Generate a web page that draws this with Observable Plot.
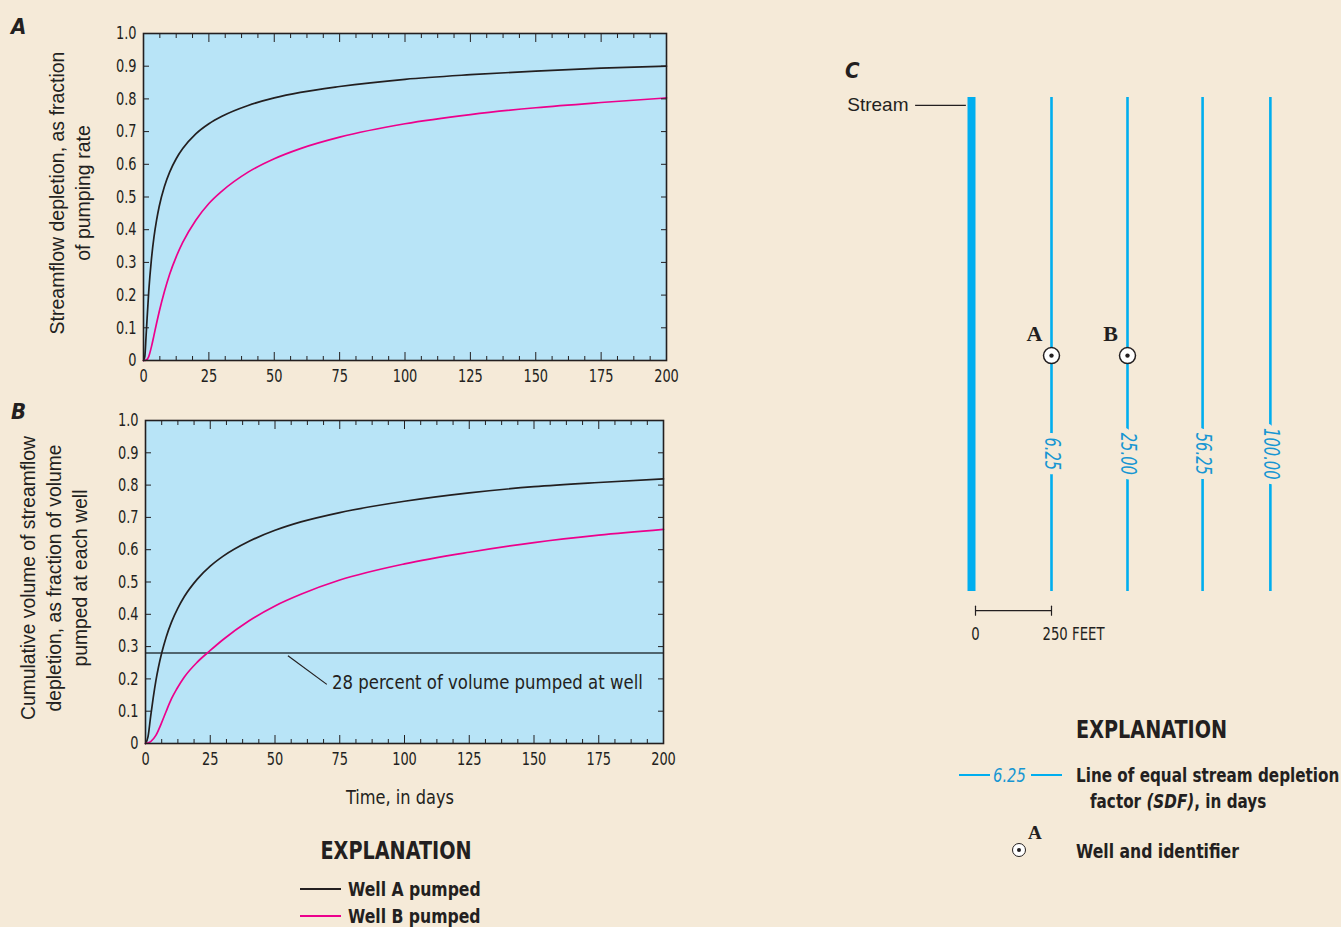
<!DOCTYPE html>
<html><head><meta charset="utf-8">
<script src="https://cdn.jsdelivr.net/npm/d3@7"></script>
<script src="https://cdn.jsdelivr.net/npm/@observablehq/plot@0.6"></script>
<style>
html,body{margin:0;padding:0;background:#F5EAD8;}
#root{position:relative;width:1341px;height:927px;background:#F5EAD8;overflow:hidden;color:#231f20;}
.abs{position:absolute;white-space:nowrap;line-height:1;}
.cond{font-family:"Liberation Sans Narrow","DejaVu Sans Condensed",sans-serif;}
.panel{position:absolute;}
.ylab{position:absolute;transform:translate(-50%,-50%) rotate(-90deg);font-family:"Liberation Sans",Arial,sans-serif;line-height:26px;text-align:center;white-space:nowrap;}
.letter{font-family:"Liberation Sans Narrow","DejaVu Sans Condensed",sans-serif;font-weight:bold;font-style:italic;font-size:22px;}
.bold{font-weight:bold;}
</style></head>
<body><div id="root"></div>
<script>
// ---------- data ----------
// Panel A: streamflow depletion as fraction of pumping rate
const aWellA_t = [0, 0.5, 1, 2, 3, 4, 5, 6, 8, 10, 12.5, 15, 20, 25, 30, 40, 50, 60, 75, 100, 125, 150, 175, 200];
const aWellA_v = [0, 0.012, 0.077, 0.211, 0.307, 0.377, 0.429, 0.471, 0.532, 0.576, 0.617, 0.648, 0.693, 0.724, 0.747, 0.780, 0.803, 0.820, 0.838, 0.860, 0.874, 0.885, 0.894, 0.900];
const aWellB_t = [0, 1, 2, 3, 4, 5, 6, 8, 10, 12.5, 15, 20, 25, 30, 40, 50, 60, 75, 100, 125, 150, 175, 200];
const aWellB_v = [0, 0.001, 0.012, 0.041, 0.077, 0.114, 0.149, 0.211, 0.264, 0.317, 0.361, 0.429, 0.480, 0.518, 0.576, 0.617, 0.648, 0.683, 0.724, 0.752, 0.773, 0.789, 0.803];
// Panel B: cumulative volume of streamflow depletion
const bWellA_t = [0, 1, 2, 3, 4, 5, 6.25, 8, 10, 12.5, 15, 20, 25, 30, 40, 50, 60, 75, 100, 125, 150, 175, 200];
const bWellA_v = [0, 0.022, 0.085, 0.143, 0.194, 0.236, 0.280, 0.330, 0.375, 0.419, 0.455, 0.509, 0.549, 0.580, 0.626, 0.660, 0.686, 0.715, 0.750, 0.776, 0.795, 0.808, 0.819];
const bWellB_t = [0, 2, 4, 6, 8, 10, 12, 15, 20, 25, 30, 40, 50, 60, 75, 100, 125, 150, 175, 200];
const bWellB_v = [0, 0.006, 0.025, 0.060, 0.100, 0.138, 0.168, 0.206, 0.252, 0.288, 0.322, 0.380, 0.426, 0.462, 0.506, 0.556, 0.592, 0.622, 0.645, 0.663];
const thresholdValue = [0.28];
const thresholdNote = ["28 percent of volume pumped at well"];
const leaderFrom = [55, 0.272], leaderTo = [70, 0.183], noteAt = [72, 0.189];
// ticks
const xMajor = [0, 25, 50, 75, 100, 125, 150, 175, 200];
const xMinor = d3.range(0, 200.01, 6.25).filter(d => d % 25 !== 0);
const yTicks = [0, 0.1, 0.2, 0.3, 0.4, 0.5, 0.6, 0.7, 0.8, 0.9, 1.0];
// Panel C: map of stream, SDF lines and wells (distances in feet from stream bank)
const sdfLabels = ["6.25", "25.00", "56.25", "100.00"];
const sdfFeet = [250, 500, 747, 970];
const lineAlongTop = 0, lineAlongBottom = 1625, labelAlong = 1172;
const wellNames = ["A", "B"];
const wellFeet = [250, 500];
const wellAlong = 849;
const scaleBarFeet = [0, 250];
const scaleBarZero = ["0"], scaleBarEnd = ["250 FEET"];
const scaleBarAlong = 1688, scaleTextAlong = 1766;
const streamLabelAlong = 26;

// ---------- helpers ----------
const INK = "#231f20", PINK = "#EC008C", FILL = "#B8E4F7", BLUE = "#00AEEF", LBLUE = "#1796D2", BG = "#F5EAD8";
const COND = '"Liberation Sans Narrow","DejaVu Sans Condensed",sans-serif';
const zipTV = (t, v) => t.map((d, i) => ({t: d, v: v[i]}));
const fmtY = d => d === 0 ? "0" : d.toFixed(1);

// horizontally compress text glyphs (condensed look) without moving anchors
function squeeze(svg, pred, k) {
  const isNum = s => s != null && /^\s*-?[\d.]+(e-?\d+)?\s*$/.test(s);
  svg.querySelectorAll("text").forEach(el => {
    if (!pred(el)) return;
    const t = el.getAttribute("transform") || "";
    const xs = el.getAttribute("x"), ys = el.getAttribute("y");
    let x = 0, y = 0;
    if (isNum(xs)) { x = +xs; el.removeAttribute("x"); }
    if (isNum(ys)) { y = +ys; el.removeAttribute("y"); }
    el.setAttribute("transform", `${t} translate(${x},${y}) scale(${k},1)`);
  });
}
const inAxis = el => { const g = el.closest("g[aria-label]"); return g && /axis tick label/.test(g.getAttribute("aria-label")); };
const textIs = list => el => list.includes(el.textContent);

function axes() {
  return [
    Plot.axisX(xMajor, {anchor: "bottom", tickSize: -8, tickPadding: 17, label: null, fontSize: 18, tickFormat: d => String(d)}),
    Plot.axisX(xMinor, {anchor: "bottom", tickSize: -4, label: null, tickFormat: () => ""}),
    Plot.axisX(xMajor, {anchor: "top", tickSize: -8, label: null, tickFormat: () => ""}),
    Plot.axisX(xMinor, {anchor: "top", tickSize: -4, label: null, tickFormat: () => ""}),
    Plot.axisY(yTicks, {anchor: "left", tickSize: -6, tickPadding: 13, label: null, fontSize: 18, tickFormat: fmtY}),
    Plot.axisY(yTicks, {anchor: "right", tickSize: -6, label: null, tickFormat: () => ""})
  ];
}

function panel({top, mt, mb, ml, mr, h, wellA, wellB, extra = []}) {
  const svg = Plot.plot({
    width: 700, height: h,
    marginTop: mt, marginBottom: mb, marginLeft: ml, marginRight: mr,
    x: {domain: [0, 200]}, y: {domain: [0, 1]},
    style: {background: "transparent", fontFamily: COND, fontSize: "18px", color: INK, overflow: "visible"},
    marks: [
      Plot.frame({fill: FILL}),
      ...extra,
      Plot.line(wellA, {x: "t", y: "v", stroke: INK, strokeWidth: 1.7, curve: "monotone-x"}),
      Plot.line(wellB, {x: "t", y: "v", stroke: PINK, strokeWidth: 1.7, curve: "monotone-x"}),
      ...axes(),
      Plot.frame({stroke: INK, strokeWidth: 1.6})
    ]
  });
  squeeze(svg, inAxis, 0.8);
  squeeze(svg, textIs(thresholdNote), 0.92);
  svg.classList.add("panel");
  svg.style.left = "0px"; svg.style.top = top + "px";
  return svg;
}

const root = document.getElementById("root");
function addText(html, cls, left, cy, size, extraStyle = "", k = 1, center = false) {
  const d = document.createElement("div");
  d.className = "abs " + cls;
  const tr = center ? `translate(-50%,-50%) scaleX(${k})` : `translateY(-50%) scaleX(${k})`;
  d.style.cssText += `left:${left}px;top:${cy}px;font-size:${size}px;transform:${tr};transform-origin:${center ? "center" : "left"} center;${extraStyle}`;
  d.innerHTML = html;
  root.appendChild(d);
  return d;
}

// ---------- Panel A ----------
root.appendChild(panel({top: 0, h: 400, mt: 33, mb: 40, ml: 143, mr: 34,
  wellA: zipTV(aWellA_t, aWellA_v), wellB: zipTV(aWellB_t, aWellB_v)}));

// ---------- Panel B ----------
root.appendChild(panel({top: 390, h: 410, mt: 30, mb: 57, ml: 145, mr: 37,
  wellA: zipTV(bWellA_t, bWellA_v), wellB: zipTV(bWellB_t, bWellB_v),
  extra: [
    Plot.ruleY(thresholdValue, {stroke: "#2E3B42", strokeWidth: 1.5}),
    Plot.link([{x1: leaderFrom[0], y1: leaderFrom[1], x2: leaderTo[0], y2: leaderTo[1]}], {x1: "x1", y1: "y1", x2: "x2", y2: "y2", stroke: INK, strokeWidth: 1.2}),
    Plot.text(thresholdNote, {x: noteAt[0], y: noteAt[1], text: d => d, textAnchor: "start", fontSize: 20, fill: INK})
  ]}));

// ---------- Panel C ----------
const sdf = sdfLabels.map((s, i) => ({label: s, ft: sdfFeet[i]}));
const wells = wellNames.map((s, i) => ({name: s, ft: wellFeet[i]}));
const tickShape = {draw(ctx, l) { ctx.moveTo(0, 0); ctx.lineTo(0, -l); }};
const panelC = Plot.plot({
  width: 511, height: 620,
  x: {domain: [0, 1000], range: [145, 449], axis: null},
  y: {domain: [0, 1625], range: [47, 541], axis: null},
  style: {background: "transparent", fontFamily: COND, color: INK, overflow: "visible"},
  marks: [
    Plot.ruleX([0], {y1: lineAlongTop, y2: lineAlongBottom, stroke: BLUE, strokeWidth: 8, dx: -4}),
    Plot.ruleY([streamLabelAlong], {x1: -197, x2: -30, stroke: INK, strokeWidth: 1.2}),
    Plot.text(["Stream"], {x: 0, y: streamLabelAlong, text: d => d, textAnchor: "end", dx: -67, fontSize: 19, fontFamily: '"Liberation Sans",Arial,sans-serif', fill: INK}),
    Plot.ruleX(sdf, {x: "ft", y1: lineAlongTop, y2: lineAlongBottom, stroke: BLUE, strokeWidth: 2.6}),
    Plot.text(sdf, {x: "ft", y: labelAlong, text: "label", rotate: 90, fill: LBLUE, fontStyle: "italic", fontSize: 21,
      stroke: BG, strokeWidth: 14, paintOrder: "stroke"}),
    Plot.dot(wells, {x: "ft", y: wellAlong, r: 8, fill: "white", stroke: INK, strokeWidth: 1.5}),
    Plot.dot(wells, {x: "ft", y: wellAlong, r: 2.2, fill: INK}),
    Plot.text(wells, {x: "ft", y: wellAlong, text: "name", dx: -17, dy: -22, fontSize: 22, fontWeight: "bold", fontFamily: '"Liberation Serif","DejaVu Serif",serif', fill: INK}),
    Plot.ruleY([scaleBarAlong], {x1: scaleBarFeet[0], x2: scaleBarFeet[1], stroke: INK, strokeWidth: 1.2}),
    Plot.vector(scaleBarFeet, {x: d => d, y: scaleBarAlong, length: 9, rotate: 0, anchor: "middle", shape: tickShape, stroke: INK, strokeWidth: 1.2}),
    Plot.text(scaleBarZero, {x: scaleBarFeet[0], y: scaleTextAlong, text: d => d, textAnchor: "middle", fontSize: 18, fill: INK}),
    Plot.text(scaleBarEnd, {x: scaleBarFeet[1], y: scaleTextAlong, text: d => d, textAnchor: "start", dx: -9, fontSize: 18, fill: INK})
  ]
});
squeeze(panelC, textIs([...scaleBarZero, ...scaleBarEnd]), 0.82);
squeeze(panelC, textIs(sdfLabels), 0.78);
panelC.classList.add("panel");
panelC.style.left = "830px"; panelC.style.top = "50px";
root.appendChild(panelC);

// ---------- Texts ----------
addText("A", "letter", 11, 27, 22);
addText("B", "letter", 11, 412, 22);
addText("C", "letter", 845, 71, 22);

const yA = document.createElement("div");
yA.className = "ylab"; yA.style.left = "70px"; yA.style.top = "193px"; yA.style.fontSize = "19.5px";
yA.innerHTML = "Streamflow depletion, as fraction<br>of pumping rate";
root.appendChild(yA);
const yB = document.createElement("div");
yB.className = "ylab"; yB.style.left = "55px"; yB.style.top = "578px"; yB.style.fontSize = "19.3px";
yB.innerHTML = "Cumulative volume of streamflow<br>depletion, as fraction of volume<br>pumped at each well";
root.appendChild(yB);

addText("Time, in days", "cond", 400, 797, 20, "", 0.9, true);

// Left explanation
const KB = 0.87;
addText("EXPLANATION", "cond bold", 396, 851, 24, "", 0.89, true);
addText("", "", 300, 889, 10, `width:41px;height:0;border-top:2px solid ${INK};`);
addText("Well A pumped", "cond bold", 348, 889, 20, "", KB);
addText("", "", 300, 916, 10, `width:41px;height:0;border-top:2px solid ${PINK};`);
addText("Well B pumped", "cond bold", 348, 916, 20, "", KB);

// Right explanation
addText("EXPLANATION", "cond bold", 1076, 730, 24, "", 0.89);
addText("", "", 959, 775, 10, `width:31px;height:0;border-top:2.5px solid ${BLUE};`);
addText("6.25", "cond", 993, 775, 20, `font-style:italic;color:${LBLUE};`, 0.82);
addText("", "", 1031, 775, 10, `width:31px;height:0;border-top:2.5px solid ${BLUE};`);
addText("Line of equal stream depletion", "cond bold", 1076, 775, 20, "", 0.845);
addText("factor <i>(SDF)</i>, in days", "cond bold", 1090, 801, 20, "", 0.845);
addText("", "", 1012, 850, 10, `border:1.5px solid ${INK};border-radius:50%;background:white;box-sizing:border-box;width:14px;height:14px;`);
addText("", "", 1017, 850, 10, `width:4px;height:4px;border-radius:50%;background:${INK};`);
addText("A", "bold", 1028, 832, 19, 'font-family:"Liberation Serif","DejaVu Serif",serif;');
addText("Well and identifier", "cond bold", 1076, 851, 20, "", KB);
</script></body></html>
